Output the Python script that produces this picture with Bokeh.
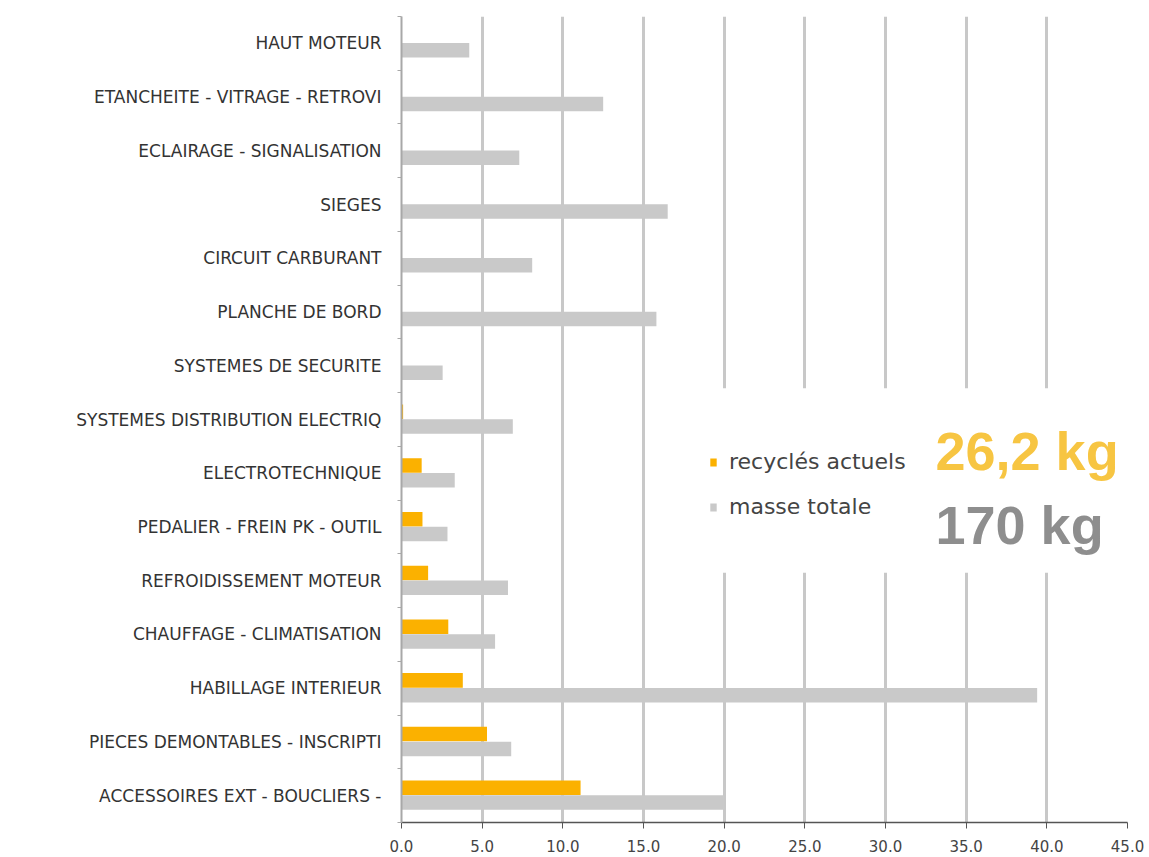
from bokeh.plotting import figure
from bokeh.models import (ColumnDataSource, Range1d, FixedTicker, NumeralTickFormatter,
                          BoxAnnotation, Label, Legend, LegendItem)
from bokeh.transform import dodge
from bokeh.embed import file_html
from bokeh.resources import INLINE

categories = [
    "HAUT MOTEUR",
    "ETANCHEITE - VITRAGE - RETROVI",
    "ECLAIRAGE - SIGNALISATION",
    "SIEGES",
    "CIRCUIT CARBURANT",
    "PLANCHE DE BORD",
    "SYSTEMES DE SECURITE",
    "SYSTEMES DISTRIBUTION ELECTRIQ",
    "ELECTROTECHNIQUE",
    "PEDALIER - FREIN PK - OUTIL",
    "REFROIDISSEMENT MOTEUR",
    "CHAUFFAGE - CLIMATISATION",
    "HABILLAGE INTERIEUR",
    "PIECES DEMONTABLES - INSCRIPTI",
    "ACCESSOIRES EXT - BOUCLIERS -",
]
recycles_actuels = [0, 0, 0, 0, 0, 0, 0, 0.1, 1.25, 1.3, 1.65, 2.9, 3.8, 5.3, 11.1]
masse_totale = [4.2, 12.5, 7.3, 16.5, 8.1, 15.8, 2.55, 6.9, 3.3, 2.85, 6.6, 5.8, 39.4, 6.8, 20.0]
x_ticks = [0, 5, 10, 15, 20, 25, 30, 35, 40, 45]
total_recycles_label = "26,2 kg"
total_masse_label = "170 kg"

ORANGE = "#FBB100"
GRAY = "#C9C9C9"
FONT = "DejaVu Sans"

n = len(categories)
ypos = [n - 1 - i + 0.5 for i in range(n)]
src = ColumnDataSource(dict(y=ypos, cat=categories, rec=recycles_actuels, tot=masse_totale))

p = figure(width=1149, height=857, output_backend="svg", toolbar_location=None,
           x_range=Range1d(0, 45), y_range=Range1d(0, n),
           min_border_left=401, min_border_right=22, min_border_top=16, min_border_bottom=35)
p.outline_line_color = None
p.background_fill_color = "white"
p.border_fill_color = "white"

r_rec = p.hbar(y=dodge("y", 0.145, range=p.y_range), right="rec", left=0, height=0.27,
               source=src, fill_color=ORANGE, line_color=None)
r_tot = p.hbar(y=dodge("y", -0.13, range=p.y_range), right="tot", left=0, height=0.27,
               source=src, fill_color=GRAY, line_color=None)

# x axis
p.xaxis.ticker = FixedTicker(ticks=x_ticks)
p.xaxis.formatter = NumeralTickFormatter(format="0.0")
p.xaxis.axis_line_color = "#555555"
p.xaxis.axis_line_width = 1.5
p.xaxis.major_tick_line_color = "#555555"
p.xaxis.major_tick_out = 6
p.xaxis.major_tick_in = 0
p.xaxis.minor_tick_line_color = None
p.xaxis.major_label_text_font = FONT
p.xaxis.major_label_text_font_size = "15px"
p.xaxis.major_label_text_color = "#444444"
p.xaxis.major_label_standoff = 11

# y axis
p.yaxis.ticker = FixedTicker(ticks=ypos, minor_ticks=[float(i) for i in range(n + 1)])
p.yaxis.major_label_overrides = {y: c for y, c in zip(ypos, categories)}
p.yaxis.axis_line_color = "#A8A8A8"
p.yaxis.axis_line_width = 2
p.yaxis.major_tick_line_color = None
p.yaxis.minor_tick_line_color = "#A8A8A8"
p.yaxis.minor_tick_out = 4
p.yaxis.minor_tick_in = 0
p.yaxis.major_label_text_font = FONT
p.yaxis.major_label_text_font_size = "17px"
p.yaxis.major_label_text_color = "#333333"
p.yaxis.major_label_standoff = 14

# grid
p.ygrid.grid_line_color = None
p.xgrid.ticker = FixedTicker(ticks=x_ticks[1:])
p.xgrid.grid_line_color = "#C8C8C8"
p.xgrid.grid_line_width = 3

# white panel behind the legend, hiding the grid lines
p.add_layout(BoxAnnotation(left=18.6, bottom=4.65, top=8.08, fill_color="white",
                           fill_alpha=1.0, line_color=None))

legend = Legend(items=[LegendItem(label="recyclés actuels", renderers=[r_rec]),
                       LegendItem(label="masse totale", renderers=[r_tot])],
                location=(308, 303), orientation="vertical",
                background_fill_alpha=0, border_line_alpha=0,
                glyph_width=8, glyph_height=10, label_text_font=FONT,
                label_text_font_size="22px", label_text_color="#444444",
                spacing=20, padding=0, margin=0, label_standoff=12)
p.add_layout(legend, "center")

p.add_layout(Label(x=33.1, y=6.35, text=total_recycles_label, text_font="Liberation Sans",
                   text_font_style="bold", text_font_size="54px", text_color="#F7C542"))
p.add_layout(Label(x=33.1, y=4.98, text=total_masse_label, text_font="Liberation Sans",
                   text_font_style="bold", text_font_size="54px", text_color="#8E8E8E"))

open("out.html", "w").write(file_html(p, INLINE))
